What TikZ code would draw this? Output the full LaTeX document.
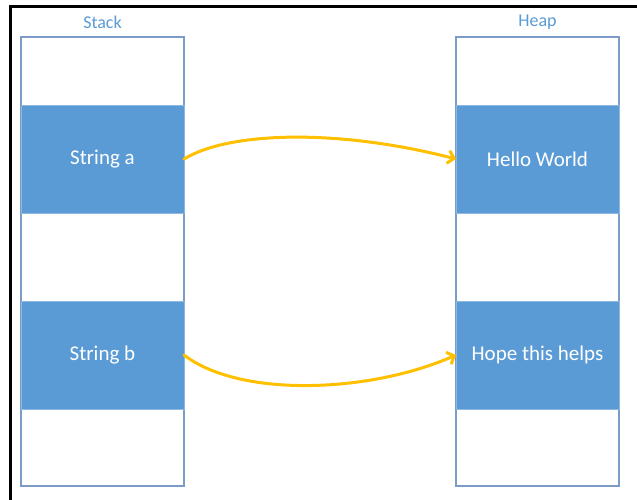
\documentclass[tikz,border=0pt]{standalone}
\usepackage{fontspec}
\setmainfont{Carlito}
\usetikzlibrary{arrows.meta}
\definecolor{cellblue}{HTML}{5B9BD5}
\definecolor{framebl}{HTML}{7A9CC6}
\definecolor{labelbl}{HTML}{5B9BD5}
\definecolor{arrowyl}{HTML}{FFC000}
\tikzset{
  column/.style={draw=framebl, line width=1.2pt, fill=white, minimum width=163pt, minimum height=449pt, inner sep=0pt, outer sep=0pt, anchor=north west},
  cell/.style={fill=cellblue, draw=cellblue!70!white, line width=0.8pt, minimum width=163pt, minimum height=108pt, inner sep=0pt, outer sep=0pt, text=white, font=\fontsize{21}{25}\selectfont},
  heading/.style={text=labelbl, font=\fontsize{18}{21}\selectfont, inner sep=0pt},
  ptr/.style={draw=arrowyl, line width=3pt, line cap=round, -{Straight Barb[length=6pt,width=13pt,line width=3pt]}}
}
\begin{document}
\begin{tikzpicture}[x=1pt,y=-1pt]
\useasboundingbox (0,0) rectangle (637,500);
\fill[white] (0,0) rectangle (637,500);
\draw[line width=3pt] (637,6.5) -- (10,6.5) -- (10,500);
\node[column] (stack) at (21,37) {};
\node[column] (heap) at (456,37) {};
\node[heading] (lstack) at (102.5,22) {Stack};
\node[heading] (lheap) at (537.5,22) {Heap};
\node[cell] (sa) at (102.5,159) {String a};
\node[cell] (sb) at (102.5,355) {String b};
\node[cell] (ha) at (537.5,159) {Hello World};
\node[cell] (hb) at (537.5,355) {Hope this helps};
\draw[ptr] (sa.east) .. controls +(46,-28) and +(-116,-30) .. (ha.west);
\draw[ptr] (sb.east) .. controls +(56,43) and +(-86,38) .. (hb.west);
\end{tikzpicture}
\end{document}
